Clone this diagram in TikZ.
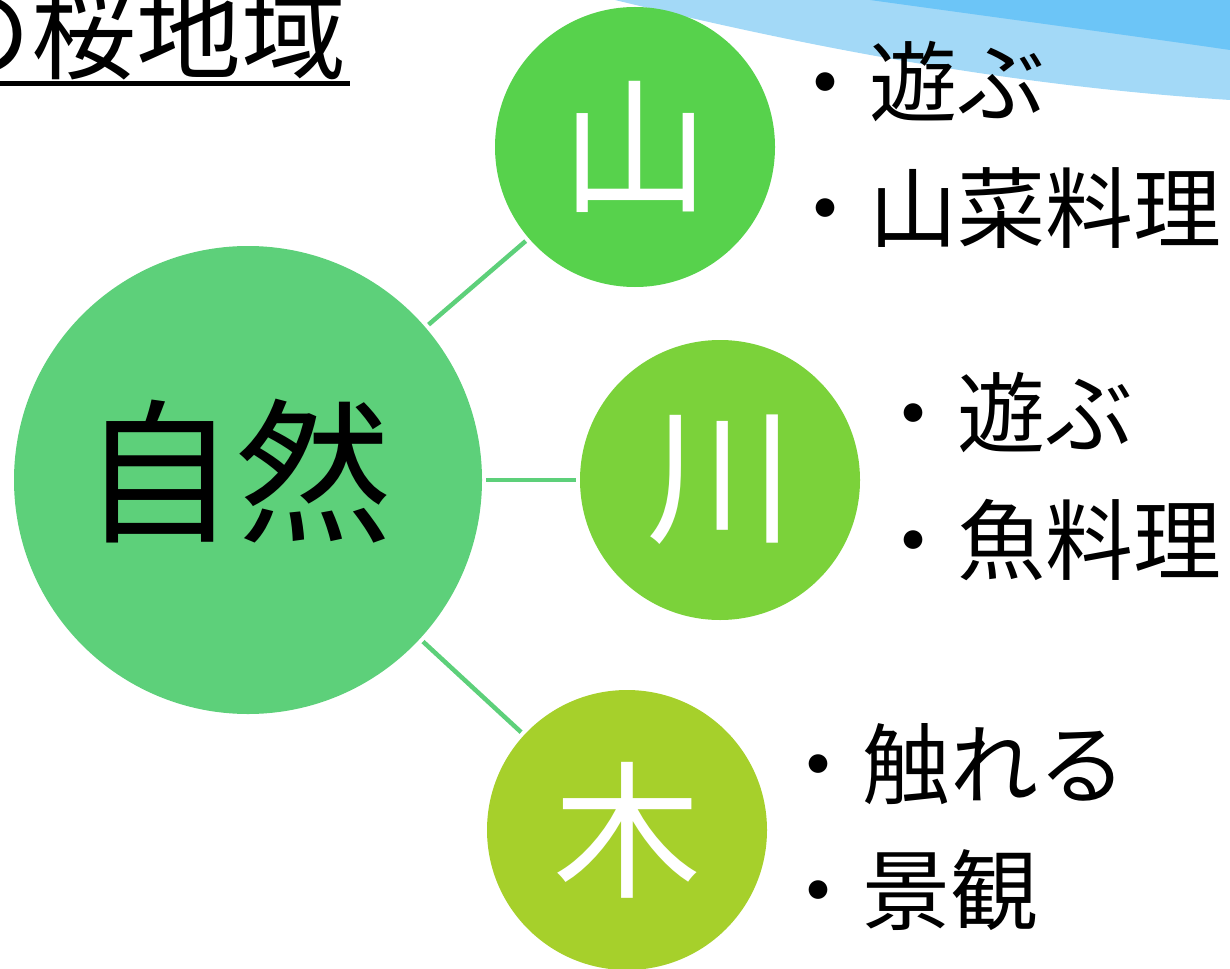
\documentclass[tikz,border=0pt]{standalone}
\usepackage{fontspec}
\setmainfont{Noto Sans CJK JP}
\definecolor{hubgreen}{HTML}{5DD07A}
\definecolor{yamagreen}{HTML}{57D24C}
\definecolor{kawagreen}{HTML}{7BD23A}
\definecolor{kigreen}{HTML}{A6D02B}
\definecolor{wavelight}{HTML}{A3D9F7}
\definecolor{wavedark}{HTML}{6CC5F7}
\begin{document}
\begin{tikzpicture}[x=1pt, y=-1pt,
    bubble/.style={circle, inner sep=0pt, minimum size=280pt, text=white, font=\fontsize{148}{148}\selectfont},
    hub/.style={circle, inner sep=0pt, minimum size=468pt, fill=hubgreen},
    item/.style={anchor=west, inner sep=0pt, font=\fontsize{88}{88}\selectfont},
    link/.style={line width=4.5pt, hubgreen, shorten >=4pt, shorten <=4pt}]
\useasboundingbox (0,0) rectangle (1230,968);
\clip (0,0) rectangle (1230,968);
% wave in the corner
    \fill[wavelight] (615,0) .. controls (800,45) and (1000,85) .. (1230,100) -- (1230,0) -- cycle;
    \fill[wavedark] (870,0) .. controls (1000,18) and (1120,34) .. (1230,50) -- (1230,0) -- cycle;
% title
    \node[anchor=south east, inner sep=0pt, font=\fontsize{105}{105}\selectfont] (title) at (347,80) {の桜地域};
    \draw[line width=5pt] (0,84) -- (350,84);
% circles
    \node[hub] (shizen) at (248,480) {};
    \node[inner sep=0pt, font=\fontsize{155}{155}\selectfont] (shizentext) at (236,471) {自然};
    \node[bubble, fill=yamagreen] (yama) at (635,147) {山};
    \node[bubble, fill=kawagreen] (kawa) at (720,480) {川};
    \node[bubble, fill=kigreen] (ki) at (627,830) {木};
% links
    \draw[link] (shizen) -- (yama);
    \draw[link] (shizen) -- (kawa);
    \draw[link] (shizen) -- (ki);
% items
    \node[item] (yama1) at (781,82) {・遊ぶ};
    \node[item] (yama2) at (781,208) {・山菜料理};
    \node[item] (kawa1) at (869,413) {・遊ぶ};
    \node[item] (kawa2) at (869,540) {・魚料理};
    \node[item] (ki1) at (774,764) {・触れる};
    \node[item] (ki2) at (774,890) {・景観};
\end{tikzpicture}
\end{document}
